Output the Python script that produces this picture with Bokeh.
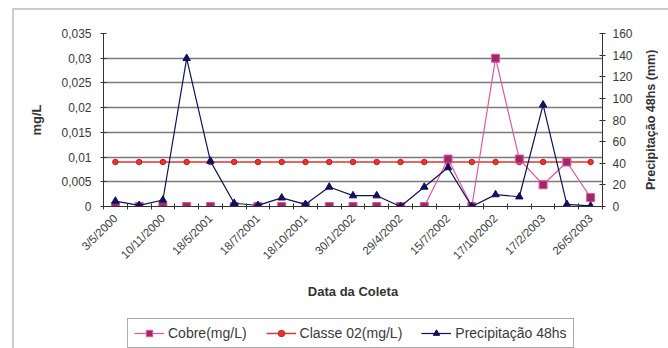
import math
from bokeh.plotting import figure
from bokeh.models import (Range1d, LinearAxis, FixedTicker, Legend, LegendItem,
                          ColumnDataSource, Div)
from bokeh.layouts import row, column
from bokeh.embed import file_html
from bokeh.resources import INLINE

# ---- data ----
indices = list(range(21))
tick_positions = [0, 2, 4, 6, 8, 10, 12, 14, 16, 18, 20]
tick_labels = ["3/5/2000", "10/11/2000", "18/5/2001", "18/7/2001", "18/10/2001",
               "30/1/2002", "29/4/2002", "15/7/2002", "17/10/2002", "17/2/2003", "26/5/2003"]
cobre = [0, 0, 0, 0, 0, 0, 0, 0, 0, 0, 0, 0, 0, 0, 0.0096, 0, 0.030, 0.0096, 0.0044, 0.009, 0.0018]
classe02 = [0.009] * 21
precip = [5, 1, 6, 137, 42, 3, 1, 8, 2, 18, 10, 10, 0, 18, 36, 0, 11, 9, 94, 2, 0.5]
left_ticks = [0, 0.005, 0.01, 0.015, 0.02, 0.025, 0.03, 0.035]
left_tick_labels = ["0", "0,005", "0,01", "0,015", "0,02", "0,025", "0,03", "0,035"]
right_ticks = [0, 20, 40, 60, 80, 100, 120, 140, 160]
right_title = "Precipitação 48hs (mm)"
series_names = ["Cobre(mg/L)", "Classe 02(mg/L)", "Precipitação 48hs"]

FONT = "Liberation Sans"
TXT = "#3a3a3a"
CB_LINE = "#e8559f"
CB_MARK = "#9c2a68"
CL = "#e8332e"
CL_EDGE = "#c02020"
PR = "#101060"
FRAME_GRAY = "#cdcdcd"

src = ColumnDataSource(dict(x=indices, cobre=cobre, classe=classe02, precip=precip))

p = figure(frame_width=499, frame_height=173, output_backend="svg", toolbar_location=None,
           x_range=Range1d(-0.5, 20.5), y_range=Range1d(0, 0.035),
           min_border_left=89, min_border_right=42, min_border_top=23, min_border_bottom=0,
           background_fill_color="white", border_fill_color="white")
p.outline_line_color = None
p.extra_y_ranges = {"precip": Range1d(0, 160)}

# grid
p.xgrid.grid_line_color = None
p.ygrid.grid_line_color = "#7a7a7a"
p.ygrid.grid_line_width = 1.3

# x axis
xa = p.xaxis[0]
xa.ticker = FixedTicker(ticks=tick_positions, minor_ticks=[i - 0.5 for i in range(22)])
xa.major_label_overrides = {t: l for t, l in zip(tick_positions, tick_labels)}
xa.major_label_orientation = math.pi / 4
xa.major_tick_line_color = None
xa.minor_tick_in = 3
xa.minor_tick_out = 3
xa.minor_tick_line_color = "#333333"
xa.axis_line_color = "#333333"
xa.major_label_text_font = FONT
xa.major_label_text_font_size = "11.5px"
xa.major_label_text_color = TXT
xa.major_label_standoff = 4
xa.axis_label = "Data da Coleta"
xa.axis_label_text_font = FONT
xa.axis_label_text_font_style = "bold"
xa.axis_label_text_font_size = "13px"
xa.axis_label_text_color = "#333333"
xa.axis_label_standoff = 15

# left axis
ya = p.yaxis[0]
ya.ticker = FixedTicker(ticks=left_ticks)
ya.major_label_overrides = {t: l for t, l in zip(left_ticks, left_tick_labels)}
ya.major_tick_in = 3
ya.major_tick_out = 3
ya.minor_tick_line_color = None
ya.axis_line_color = "#333333"
ya.major_tick_line_color = "#333333"
ya.major_label_text_font = FONT
ya.major_label_text_font_size = "12px"
ya.major_label_text_color = TXT
ya.major_label_standoff = 9
ya.axis_label = "mg/L"
ya.axis_label_text_font = FONT
ya.axis_label_text_font_style = "bold"
ya.axis_label_text_font_size = "13px"
ya.axis_label_text_color = "#333333"
ya.axis_label_standoff = 14

# right axis (its title is drawn alongside so that it reads bottom-to-top)
ra = LinearAxis(y_range_name="precip", ticker=FixedTicker(ticks=right_ticks))
ra.major_tick_in = 3
ra.major_tick_out = 3
ra.minor_tick_line_color = None
ra.axis_line_color = "#333333"
ra.major_tick_line_color = "#333333"
ra.major_label_text_font = FONT
ra.major_label_text_font_size = "12px"
ra.major_label_text_color = TXT
ra.major_label_standoff = 7
p.add_layout(ra, "right")

# series
p.line("x", "classe", source=src, line_color=CL, line_width=1.5)
p.scatter("x", "classe", source=src, marker="circle", size=5.5, fill_color=CL, line_color=CL_EDGE)
p.line("x", "cobre", source=src, line_color=CB_LINE, line_width=1.2)
p.scatter("x", "cobre", source=src, marker="square", size=8, fill_color=CB_MARK, line_color=CB_LINE)
p.line("x", "precip", source=src, y_range_name="precip", line_color=PR, line_width=1.2)
p.scatter("x", "precip", source=src, y_range_name="precip", marker="triangle", size=7.5,
          fill_color=PR, line_color=PR)

side = Div(text=right_title, width=24, height=173, margin=(23, 0, 0, 0),
           styles={"writing-mode": "vertical-rl", "transform": "rotate(180deg)",
                   "text-align": "center", "font-family": FONT, "font-weight": "bold",
                   "font-size": "12.5px", "color": "#333333", "line-height": "15px",
                   "white-space": "nowrap"})

# legend strip below the chart (legend renderers sit outside the strip's visible range)
lg = figure(width=654, height=48, output_backend="svg", toolbar_location=None,
            x_range=Range1d(0, 1), y_range=Range1d(0, 1),
            x_axis_location=None, y_axis_location=None, min_border=0,
            background_fill_color="white", border_fill_color="white")
lg.outline_line_color = None
lg.grid.grid_line_color = None
off = dict(x=[5, 6], y=[5, 6])
g1 = [lg.line(off["x"], off["y"], line_color=CB_LINE, line_width=1.2),
      lg.scatter(off["x"], off["y"], marker="square", size=8, fill_color=CB_MARK, line_color=CB_LINE)]
g2 = [lg.line(off["x"], off["y"], line_color=CL, line_width=1.5),
      lg.scatter(off["x"], off["y"], marker="circle", size=5.5, fill_color=CL, line_color=CL_EDGE)]
g3 = [lg.line(off["x"], off["y"], line_color=PR, line_width=1.2),
      lg.scatter(off["x"], off["y"], marker="triangle", size=7.5, fill_color=PR, line_color=PR)]
legend = Legend(items=[LegendItem(label=series_names[0], renderers=g1),
                       LegendItem(label=series_names[1], renderers=g2),
                       LegendItem(label=series_names[2], renderers=g3)],
                orientation="horizontal", location=(113, 1))
legend.label_text_font = FONT
legend.label_text_font_size = "14px"
legend.label_text_color = TXT
legend.border_line_color = "#555555"
legend.border_line_width = 1
legend.background_fill_color = "white"
legend.glyph_width = 30
legend.glyph_height = 16
legend.label_height = 16
legend.spacing = 19
legend.padding = 6
legend.margin = 0
legend.label_standoff = 4
lg.add_layout(legend, "center")

# light outer chart frame (left and top edges)
top_edge = Div(text="", width=656, height=2, margin=(8, 0, 0, 12),
               styles={"background-color": FRAME_GRAY})
left_edge = Div(text="", width=2, height=338, margin=(0, 0, 0, 12),
                styles={"background-color": FRAME_GRAY})

layout = column(top_edge, row(left_edge, column(row(p, side), lg)))
open("out.html", "w").write(file_html(layout, INLINE))
